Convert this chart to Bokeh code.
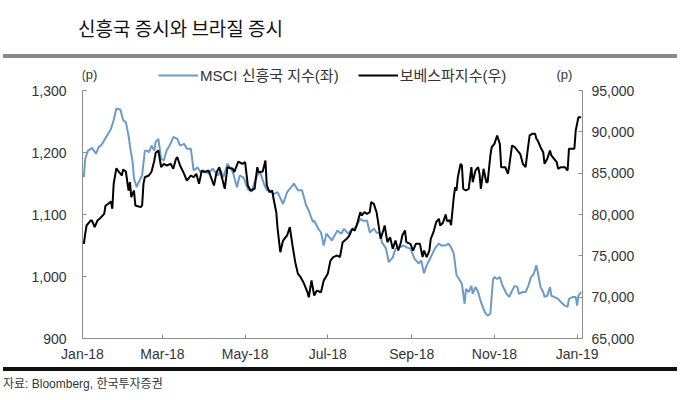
import pandas as pd
from bokeh.plotting import figure
from bokeh.layouts import column
from bokeh.models import (LinearAxis, Range1d, FixedTicker, Legend, LegendItem,
                          NumeralTickFormatter, Label, Div)
from bokeh.embed import file_html
from bokeh.resources import INLINE

# ---------------- data ----------------
msci_dates = [
    "2018-01-02", "2018-01-03", "2018-01-05", "2018-01-08", "2018-01-11", "2018-01-13", "2018-01-15",
    "2018-01-19", "2018-01-22", "2018-01-24", "2018-01-26", "2018-01-29", "2018-01-31", "2018-02-02",
    "2018-02-04", "2018-02-05", "2018-02-07", "2018-02-08", "2018-02-10", "2018-02-11", "2018-02-14",
    "2018-02-16", "2018-02-18", "2018-02-19", "2018-02-21", "2018-02-23", "2018-02-24", "2018-02-26",
    "2018-02-28", "2018-03-02", "2018-03-04", "2018-03-07", "2018-03-09", "2018-03-12", "2018-03-14",
    "2018-03-17", "2018-03-19", "2018-03-22", "2018-03-24", "2018-03-27", "2018-03-29", "2018-03-31",
    "2018-04-04", "2018-04-07", "2018-04-11", "2018-04-13", "2018-04-15", "2018-04-18", "2018-04-22",
    "2018-04-25", "2018-04-27", "2018-04-30", "2018-05-03", "2018-05-06", "2018-05-09", "2018-05-12",
    "2018-05-15", "2018-05-17", "2018-05-19", "2018-05-22", "2018-05-25", "2018-05-29", "2018-06-01",
    "2018-06-04", "2018-06-06", "2018-06-09", "2018-06-12", "2018-06-15", "2018-06-17", "2018-06-20",
    "2018-06-21", "2018-06-24", "2018-06-26", "2018-06-28", "2018-06-30", "2018-07-03", "2018-07-04",
    "2018-07-08", "2018-07-11", "2018-07-13", "2018-07-16", "2018-07-18", "2018-07-22", "2018-07-25",
    "2018-07-27", "2018-07-30", "2018-08-01", "2018-08-04", "2018-08-06", "2018-08-09", "2018-08-10",
    "2018-08-13", "2018-08-15", "2018-08-18", "2018-08-20", "2018-08-23", "2018-08-26", "2018-08-28",
    "2018-08-31", "2018-09-03", "2018-09-06", "2018-09-08", "2018-09-10", "2018-09-12", "2018-09-15",
    "2018-09-18", "2018-09-21", "2018-09-23", "2018-09-26", "2018-09-28", "2018-09-30", "2018-10-02",
    "2018-10-04", "2018-10-06", "2018-10-08", "2018-10-10", "2018-10-11", "2018-10-13", "2018-10-15",
    "2018-10-16", "2018-10-18", "2018-10-20", "2018-10-22", "2018-10-25", "2018-10-27", "2018-10-29",
    "2018-10-31", "2018-11-01", "2018-11-03", "2018-11-05", "2018-11-07", "2018-11-10", "2018-11-12",
    "2018-11-14", "2018-11-16", "2018-11-18", "2018-11-19", "2018-11-22", "2018-11-24", "2018-11-26",
    "2018-11-28", "2018-11-30", "2018-12-02", "2018-12-03", "2018-12-05", "2018-12-07", "2018-12-08",
    "2018-12-10", "2018-12-12", "2018-12-13", "2018-12-15", "2018-12-18", "2018-12-20", "2018-12-23",
    "2018-12-25", "2018-12-26", "2018-12-29", "2018-12-31", "2019-01-01", "2019-01-02", "2019-01-04",
]
msci_values = [
    1160, 1190, 1203, 1207, 1198, 1209, 1212,
    1227, 1238, 1252, 1271, 1269, 1252, 1249,
    1227, 1211, 1184, 1158, 1144, 1150, 1163,
    1203, 1203, 1200, 1211, 1203, 1217, 1222,
    1190, 1187, 1203, 1214, 1225, 1222, 1211,
    1214, 1206, 1206, 1171, 1176, 1168, 1171,
    1166, 1174, 1163, 1171, 1160, 1182, 1168,
    1144, 1163, 1159, 1141, 1137, 1160, 1169,
    1149, 1139, 1139, 1133, 1136, 1117, 1136,
    1144, 1150, 1139, 1139, 1115, 1106, 1088,
    1090, 1077, 1071, 1050, 1069, 1061, 1058,
    1074, 1069, 1077, 1069, 1074, 1080, 1093,
    1090, 1090, 1071, 1077, 1071, 1069, 1055,
    1045, 1023, 1031, 1045, 1047, 1050, 1047,
    1045, 1029, 1021, 1026, 1005, 1018, 1031,
    1045, 1053, 1050, 1050, 1053, 1047, 1037,
    1002, 996, 988, 956, 980, 975, 985,
    972, 983, 975, 959, 942, 937, 940,
    996, 999, 996, 999, 985, 972, 967,
    977, 985, 983, 972, 975, 975, 985,
    999, 1004, 1018, 1007, 983, 975, 967,
    969, 983, 969, 967, 964, 959, 953,
    951, 964, 967, 967, 953, 969, 975,
]

bovespa_dates = [
    "2018-01-02", "2018-01-03", "2018-01-04", "2018-01-07", "2018-01-08", "2018-01-10", "2018-01-12",
    "2018-01-14", "2018-01-17", "2018-01-18", "2018-01-20", "2018-01-22", "2018-01-23", "2018-01-24",
    "2018-01-26", "2018-01-28", "2018-01-30", "2018-01-31", "2018-02-02", "2018-02-04", "2018-02-05",
    "2018-02-06", "2018-02-08", "2018-02-09", "2018-02-13", "2018-02-14", "2018-02-15", "2018-02-16",
    "2018-02-19", "2018-02-21", "2018-02-23", "2018-02-24", "2018-02-26", "2018-02-28", "2018-03-02",
    "2018-03-04", "2018-03-07", "2018-03-09", "2018-03-11", "2018-03-12", "2018-03-14", "2018-03-17",
    "2018-03-19", "2018-03-22", "2018-03-24", "2018-03-26", "2018-03-28", "2018-03-30", "2018-04-01",
    "2018-04-04", "2018-04-08", "2018-04-10", "2018-04-12", "2018-04-16", "2018-04-18", "2018-04-22",
    "2018-04-23", "2018-04-26", "2018-04-29", "2018-05-01", "2018-05-03", "2018-05-05", "2018-05-08",
    "2018-05-10", "2018-05-11", "2018-05-14", "2018-05-16", "2018-05-17", "2018-05-19", "2018-05-21",
    "2018-05-22", "2018-05-24", "2018-05-25", "2018-05-27", "2018-05-29", "2018-06-01", "2018-06-03",
    "2018-06-05", "2018-06-07", "2018-06-09", "2018-06-11", "2018-06-13", "2018-06-16", "2018-06-17",
    "2018-06-19", "2018-06-21", "2018-06-23", "2018-06-26", "2018-06-28", "2018-07-01", "2018-07-03",
    "2018-07-05", "2018-07-08", "2018-07-10", "2018-07-12", "2018-07-15", "2018-07-17", "2018-07-19",
    "2018-07-21", "2018-07-23", "2018-07-25", "2018-07-26", "2018-07-28", "2018-07-30", "2018-08-01",
    "2018-08-02", "2018-08-04", "2018-08-06", "2018-08-07", "2018-08-09", "2018-08-11", "2018-08-12",
    "2018-08-14", "2018-08-16", "2018-08-18", "2018-08-20", "2018-08-22", "2018-08-24", "2018-08-25",
    "2018-08-27", "2018-08-28", "2018-08-31", "2018-09-02", "2018-09-04", "2018-09-07", "2018-09-09",
    "2018-09-10", "2018-09-12", "2018-09-14", "2018-09-15", "2018-09-17", "2018-09-19", "2018-09-21",
    "2018-09-22", "2018-09-24", "2018-09-26", "2018-09-27", "2018-09-29", "2018-09-30", "2018-10-02",
    "2018-10-03", "2018-10-04", "2018-10-05", "2018-10-07", "2018-10-08", "2018-10-09", "2018-10-11",
    "2018-10-13", "2018-10-15", "2018-10-16", "2018-10-18", "2018-10-20", "2018-10-21", "2018-10-22",
    "2018-10-24", "2018-10-26", "2018-10-27", "2018-10-29", "2018-10-30", "2018-11-01", "2018-11-03",
    "2018-11-05", "2018-11-06", "2018-11-09", "2018-11-11", "2018-11-12", "2018-11-14", "2018-11-16",
    "2018-11-18", "2018-11-20", "2018-11-22", "2018-11-24", "2018-11-26", "2018-11-27", "2018-11-29",
    "2018-12-01", "2018-12-02", "2018-12-03", "2018-12-05", "2018-12-07", "2018-12-08", "2018-12-10",
    "2018-12-12", "2018-12-13", "2018-12-15", "2018-12-17", "2018-12-18", "2018-12-20", "2018-12-23",
    "2018-12-25", "2018-12-26", "2018-12-29", "2018-12-30", "2018-12-31", "2019-01-02", "2019-01-04",
]
bovespa_values = [
    76450, 77660, 78670, 79270, 79270, 78470, 79270,
    79550, 80080, 81090, 81290, 81570, 80690, 83710,
    85600, 85120, 84720, 85440, 85200, 82900, 83910,
    82100, 82900, 81090, 80890, 81090, 83710, 84510,
    84720, 85200, 86530, 87460, 87740, 85720, 86130,
    85930, 86130, 85530, 86740, 86930, 85930, 84920,
    84110, 84720, 84510, 84920, 83710, 85320, 85120,
    85320, 83510, 85120, 85720, 83110, 85720, 85530,
    85120, 86410, 86130, 86330, 83510, 82900, 83110,
    85720, 85120, 85200, 86530, 83510, 82700, 82900,
    81900, 80280, 78270, 75440, 76850, 77460, 78470,
    76250, 74230, 72820, 72420, 71810, 70600, 69990,
    72020, 70200, 70800, 70600, 72000, 72820, 74430,
    74840, 75040, 74840, 76650, 77060, 77460, 78270,
    78060, 79070, 80280, 79880, 80280, 80080, 80280,
    81490, 81290, 80280, 79270, 77060, 78060, 78670,
    76650, 77260, 75850, 76850, 75640, 76650, 77460,
    78060, 76650, 76450, 75640, 76450, 76450, 74840,
    75640, 74840, 75640, 77060, 77860, 79070, 79480,
    78670, 79000, 80000, 79200, 79300, 78700, 82100,
    83310, 82900, 84510, 86130, 85930, 83110, 82900,
    83110, 85720, 83910, 85320, 85720, 84920, 83110,
    85530, 83910, 83910, 87140, 88140, 88550, 89560,
    88550, 85720, 85720, 84920, 85930, 88350, 88140,
    87740, 87340, 86130, 85720, 88350, 89560, 89760,
    89760, 89160, 88950, 88140, 87540, 86130, 86740,
    87740, 87140, 86740, 86330, 85530, 85720, 85720,
    85320, 87950, 87950, 87950, 90160, 91770, 91770,
]

x_tick_dates = ["2018-01-01", "2018-03-01", "2018-05-01", "2018-07-01",
                "2018-09-01", "2018-11-01", "2019-01-01"]
x_tick_labels = ["Jan-18", "Mar-18", "May-18", "Jul-18", "Sep-18", "Nov-18", "Jan-19"]
left_ticks = [900, 1000, 1100, 1200, 1300]
right_ticks = [65000, 70000, 75000, 80000, 85000, 90000, 95000]

title_text = "신흥국 증시와 브라질 증시"
msci_label = "MSCI 신흥국 지수(좌)"
bovespa_label = "보베스파지수(우)"
source_text = "자료: Bloomberg, 한국투자증권"
unit_text = "(p)"

# ---------------- styling / layout constants ----------------
def ms(s):
    return pd.Timestamp(s).value / 1e6

LATIN = "Liberation Sans"
MIXED = "Liberation Sans, Noto Sans CJK KR"
KR = "Noto Sans CJK KR"
BLUE = "#6b9bcb"
AXIS = "#8c8c8c"
TXT = "#333333"
W = 680
HEAD_H = 58        # title block height (title + rule)
HEADER_PX = 24     # legend strip inside the frame, above the 1300 / 95,000 line
PLOT_PX = 248      # height between the 900 and 1300 lines
BORDER_TOP = 8
BORDER_BOTTOM = 28
FOOT_H = 32

# ---------------- title block (text with its rule below) ----------------
head = Div(width=W, height=HEAD_H, margin=0,
           styles={"box-sizing": "border-box", "padding-left": "3px", "padding-right": "3px"},
           text=(
    '<div style="position:relative;width:674px;height:56px;margin:0;padding:0;'
    'border-bottom:2px solid rgb(138,138,138);box-shadow:0 2px 0 rgb(138,138,138);">'
    '<span style="position:absolute;left:75px;top:14px;font-family:\'%s\';font-size:19px;'
    'font-weight:normal;line-height:28px;color:rgb(17,17,17);white-space:nowrap;">%s</span>'
    '</div>') % (KR, title_text))

# ---------------- main chart ----------------
span_l = left_ticks[-1] - left_ticks[0]
span_r = right_ticks[-1] - right_ticks[0]
p = figure(width=W, height=BORDER_TOP + HEADER_PX + PLOT_PX + BORDER_BOTTOM,
           output_backend="svg", toolbar_location=None,
           x_axis_type="datetime",
           x_range=Range1d(ms("2018-01-01"), ms("2019-01-05")),
           y_range=Range1d(left_ticks[0], left_ticks[-1] + span_l * HEADER_PX / PLOT_PX),
           min_border_left=82, min_border_right=98,
           min_border_top=BORDER_TOP, min_border_bottom=BORDER_BOTTOM)
p.extra_y_ranges = {"bov": Range1d(right_ticks[0],
                                   right_ticks[-1] + span_r * HEADER_PX / PLOT_PX)}
p.outline_line_color = None
p.xgrid.visible = False
p.ygrid.visible = False

r_msci = p.line(pd.to_datetime(msci_dates), msci_values, line_color=BLUE, line_width=2)
r_bov = p.line(pd.to_datetime(bovespa_dates), bovespa_values, y_range_name="bov",
               line_color="black", line_width=2)

right_axis = LinearAxis(y_range_name="bov")
p.add_layout(right_axis, "right")

xa = p.xaxis[0]
xa.ticker = FixedTicker(ticks=[ms(d) for d in x_tick_dates])
xa.major_label_overrides = {ms(d): lab for d, lab in zip(x_tick_dates, x_tick_labels)}
xa.major_label_standoff = 7

ya = p.yaxis[0]
ya.ticker = FixedTicker(ticks=left_ticks)
ya.formatter = NumeralTickFormatter(format="0,0")
ya.major_label_standoff = 16
ya.bounds = (left_ticks[0], left_ticks[-1])

right_axis.ticker = FixedTicker(ticks=right_ticks)
right_axis.formatter = NumeralTickFormatter(format="0,0")
right_axis.major_label_standoff = 9
right_axis.bounds = (right_ticks[0], right_ticks[-1])

for ax in (xa, ya, right_axis):
    ax.axis_line_color = AXIS
    ax.axis_line_width = 1
    ax.major_tick_line_color = AXIS
    ax.major_tick_in = 4
    ax.major_tick_out = 0
    ax.minor_tick_line_color = None
    ax.major_label_text_font = LATIN
    ax.major_label_text_font_size = "14px"
    ax.major_label_text_color = TXT

# legend strip (inside the frame, above the plotting area); screen units from frame bottom-left
legend = Legend(items=[LegendItem(label=msci_label, renderers=[r_msci]),
                       LegendItem(label=bovespa_label, renderers=[r_bov])],
                orientation="horizontal", location=(76, PLOT_PX + 5),
                glyph_width=40, glyph_height=20, label_standoff=2, spacing=19,
                padding=0, margin=0, border_line_color=None, background_fill_alpha=0,
                label_text_font=MIXED, label_text_font_size="15px",
                label_text_color=TXT, label_height=20)
p.add_layout(legend, "center")
for ux in (-1, 474):
    p.add_layout(Label(x=ux, y=PLOT_PX + 16, x_units="screen", y_units="screen",
                       text=unit_text, text_font=LATIN, text_font_size="13px",
                       text_color=TXT, text_baseline="middle", text_align="left"))

# ---------------- source block (rule above the text) ----------------
foot = Div(width=W, height=FOOT_H, margin=0,
           styles={"box-sizing": "border-box", "padding-left": "3px", "padding-right": "3px"},
           text=(
    '<div style="position:relative;width:674px;margin:3px 0 0 0;border-top:2px solid rgb(17,17,17);'
    'box-shadow:0 -2px 0 rgb(17,17,17);padding-top:5px;font-family:\'%s\',\'%s\';'
    'font-size:12px;line-height:16px;color:rgb(51,51,51);white-space:nowrap;">%s</div>')
    % (LATIN, KR, source_text))

layout = column(head, p, foot, spacing=0)
open("out.html", "w").write(file_html(layout, INLINE))
